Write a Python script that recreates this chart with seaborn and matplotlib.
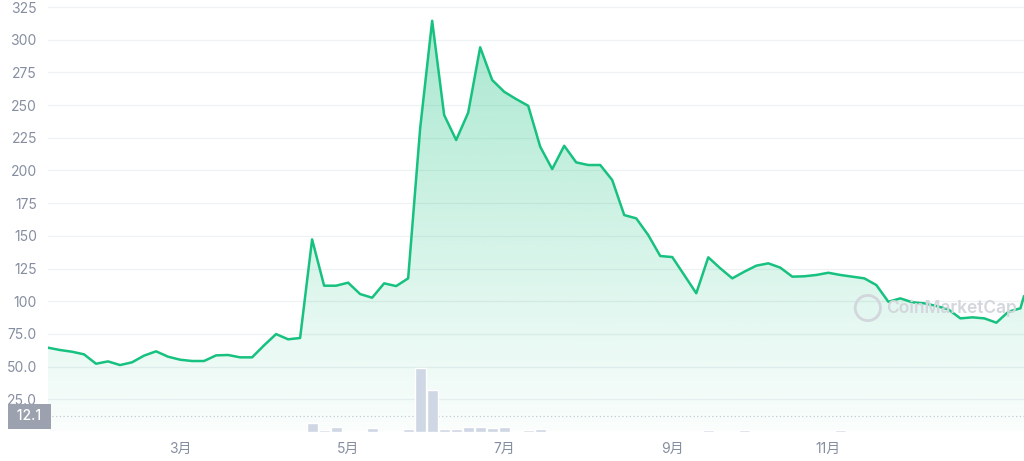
import numpy as np
import matplotlib
matplotlib.use("Agg")
import matplotlib.pyplot as plt
import seaborn as sns

# price samples (one every ~4.5 days)
price = [64.5, 62.7, 61.4, 59.4, 52.2, 54.0, 51.2, 53.3, 58.4, 61.7,
         57.6, 55.3, 54.3, 54.3, 58.6, 58.9, 57.1, 57.1, 66.3, 74.9,
         70.9, 71.9, 147.3, 111.9, 111.9, 114.2, 105.5, 102.7, 113.7, 111.6,
         117.5, 232.2, 314.5, 242.4, 223.3, 244.2, 294.2, 269.2, 260.2, 254.6,
         249.5, 218.2, 201.1, 218.9, 206.2, 204.2, 204.2, 192.7, 165.9, 163.4,
         150.6, 134.6, 133.8, 120.0, 106.1, 133.6, 125.2, 117.5, 122.6, 127.2,
         129.0, 125.7, 118.8, 119.1, 120.1, 121.8, 120.1, 118.8, 117.5, 112.4,
         99.6, 102.2, 99.2, 98.4, 96.4, 93.8, 86.9, 87.7, 86.9, 83.6,
         92.0, 94.6, 104.0]

# volume bars (relative units)
volume = [1.5, 1.5, 1.5, 1.5, 1.5, 1.5, 1.5, 1.5, 1.5, 1.5,
          1.5, 1.5, 1.5, 1.5, 1.5, 1.5, 1.5, 1.5, 1.5, 1.5,
          1.5, 1.5, 9, 2, 5, 1.5, 1.5, 4.3, 1.5, 1.5,
          3, 64, 42, 2.7, 2.7, 5.3, 5.3, 3.7, 5.3, 1.5,
          2, 3.5, 1.5, 1.5, 1.5, 1.5, 1.5, 1.5, 1.5, 1.5,
          1.5, 1.5, 1.5, 1.5, 1.5, 2.2, 1.5, 1.5, 2.2, 1.5,
          1.5, 1.5, 1.5, 1.5, 1.5, 1.5, 2.2, 1.5, 1.5, 1.5,
          1.5, 1.5, 1.5, 1.5, 1.5, 1.5, 1.5, 1.5, 1.5, 1.5,
          1.5, 1.5]

month_pos = [11, 25, 38, 52, 65]
month_labels = ["3月", "5月", "7月", "9月", "11月"]
ytick_vals = [25, 50, 75, 100, 125, 150, 175, 200, 225, 250, 275, 300, 325]
ytick_labels = ["25.0", "50.0", "75.0", "100", "125", "150", "175", "200",
                "225", "250", "275", "300", "325"]
marker_price = 12.1

GREEN = "#17c180"
GREY = "#858ea0"

sns.set_theme(style="white")
plt.rcParams["font.family"] = ["Inter", "Noto Sans CJK SC", "DejaVu Sans"]

xs = np.arange(len(price), dtype=float)
xs[-1] = 81.3  # live price, part-way through the last interval

fig = plt.figure(figsize=(10.24, 4.61), dpi=100)
ax = fig.add_axes([48 / 1024, 29 / 461, 976 / 1024, 432 / 461])
ax.set_xlim(0, 81.3)
ax.set_ylim(0, 330.4)

# gradient fill under the line
fill = ax.fill_between(xs, price, 0, color="none")
grad = np.zeros((256, 1, 4))
rgb = matplotlib.colors.to_rgb(GREEN)
grad[:, 0, :3] = rgb
grad[:, 0, 3] = np.linspace(0.38, 0.02, 256)
img = ax.imshow(grad, aspect="auto", extent=[0, 81.3, 0, 320], origin="upper", zorder=1)
img.set_clip_path(fill.get_paths()[0], transform=ax.transData)

sns.lineplot(x=xs, y=price, ax=ax, color=GREEN, linewidth=1.8, zorder=3)

ax.axhline(marker_price, color="#c5c9d1", linestyle=(0, (1, 2)), linewidth=0.9, zorder=2)

ax.set_yticks(ytick_vals)
ax.set_yticklabels(ytick_labels)
ax.set_xticks(month_pos)
ax.set_xticklabels(month_labels)
ax.grid(axis="y", color="#eff1f4", linewidth=0.9)
ax.set_axisbelow(True)
ax.tick_params(axis="y", length=0, pad=8, labelsize=10, labelcolor=GREY)
ax.tick_params(axis="x", length=3, width=0.8, color="#9aa0ac", pad=4, labelsize=10, labelcolor=GREY)
for s in ax.spines.values():
    s.set_visible(False)

ax.annotate(" 12.1 ", xy=(0, marker_price), xycoords=("axes fraction", "data"),
            xytext=(-2, 0), textcoords="offset points", ha="right", va="center",
            color="white", fontsize=10, fontweight="medium",
            bbox=dict(boxstyle="square,pad=0.4", fc="#9ba1ae", ec="none"))

# volume on its own scale
ax2 = ax.twinx()
ax2.bar(xs[:len(volume)], volume, width=0.92, color="#cfd6e4", zorder=2)
ax2.set_ylim(0, 432)
ax2.set_yticks([])
for s in ax2.spines.values():
    s.set_visible(False)

# watermark
ax.scatter([0.840], [0.287], s=330, facecolors="none", edgecolors="#d3d6dc",
           linewidths=2.0, transform=ax.transAxes, zorder=4)
ax.text(0.859, 0.287, "CoinMarketCap", transform=ax.transAxes, fontsize=12.5,
        color="#d3d6dc", va="center", ha="left", fontweight="semibold", zorder=4)

fig.savefig("out.png", dpi=100)
